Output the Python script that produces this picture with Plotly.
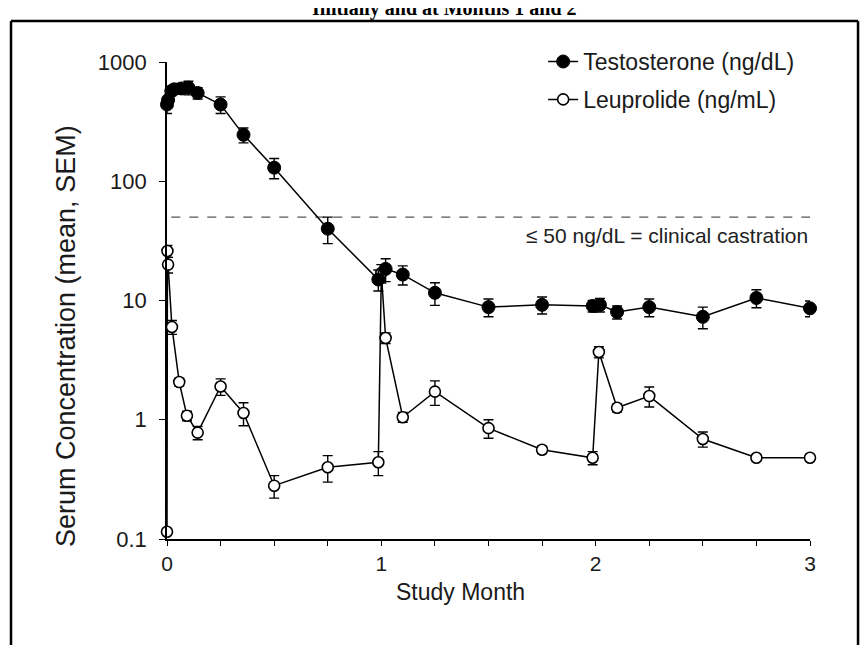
import plotly.graph_objects as go

# ---- data ----
testo_month = [0, 0.005, 0.02, 0.033, 0.067, 0.1, 0.143, 0.25, 0.357, 0.5, 0.75,
               0.986, 1.02, 1.1, 1.25, 1.5, 1.75, 1.986, 2.02, 2.1, 2.25, 2.5, 2.75, 3.0]
testo_mean = [440, 480, 570, 590, 600, 610, 550, 440, 245, 130, 40,
              15, 18.4, 16.5, 11.6, 8.8, 9.2, 9.0, 9.2, 8.0, 8.8, 7.3, 10.5, 8.6]
testo_sem = [70, 60, 50, 50, 60, 80, 60, 70, 35, 25, 10,
             3, 4, 3, 2.5, 1.5, 1.5, 1, 1.2, 1, 1.5, 1.5, 1.8, 1.3]

leup_month = [0, 0.002, 0.005, 0.023, 0.057, 0.093, 0.143, 0.25, 0.357, 0.5, 0.75,
              0.986, 1.0, 1.02, 1.1, 1.25, 1.5, 1.75, 1.986, 2.015, 2.1, 2.25, 2.5, 2.75, 3.0]
leup_mean = [0.115, 26, 20, 6.0, 2.07, 1.08, 0.78, 1.9, 1.14, 0.28, 0.40,
             0.44, 17, 4.85, 1.05, 1.72, 0.85, 0.56, 0.48, 3.7, 1.26, 1.58, 0.69, 0.48, 0.48]
leup_sem = [0, 3, 3, 0.8, 0.15, 0.1, 0.1, 0.3, 0.25, 0.06, 0.1,
            0.1, 3, 0.5, 0.1, 0.4, 0.15, 0.04, 0.06, 0.4, 0.1, 0.3, 0.1, 0.03, 0.03]

castration_level = 50
x_ticks = [0, 1, 2, 3]
y_ticks = [0.1, 1, 10, 100, 1000]
y_ticktext = ["0.1", "1", "10", "100", "1000"]

FONT = "Liberation Sans, Arial, Helvetica, sans-serif"

fig = go.Figure()

# threshold line
fig.add_trace(go.Scatter(
    x=[0.02, 3], y=[castration_level, castration_level], mode="lines",
    line=dict(color="#555555", width=1.2, dash="dash"),
    showlegend=False, hoverinfo="skip"))

fig.add_trace(go.Scatter(
    x=leup_month, y=leup_mean, name="Leuprolide (ng/mL)", legendgroup="b", legendrank=2,
    mode="lines+markers",
    line=dict(color="black", width=1.5),
    marker=dict(symbol="circle", size=11, color="white",
                line=dict(color="black", width=1.6)),
    error_y=dict(type="data", array=leup_sem, color="black", thickness=1.4, width=5),
    cliponaxis=False))

fig.add_trace(go.Scatter(
    x=testo_month, y=testo_mean, name="Testosterone (ng/dL)", legendgroup="a", legendrank=1,
    mode="lines+markers",
    line=dict(color="black", width=1.5),
    marker=dict(symbol="circle", size=13, color="black",
                line=dict(color="black", width=1)),
    error_y=dict(type="data", array=testo_sem, color="black", thickness=1.4, width=5),
    cliponaxis=False))

fig.update_layout(
    width=860, height=638, autosize=False,
    margin=dict(l=159, r=58, t=54, b=107),
    paper_bgcolor="white", plot_bgcolor="white",
    font=dict(family=FONT, color="#1a1a1a"),
    showlegend=True,
    legend=dict(x=0.585, y=1.046, xanchor="left", yanchor="top",
                traceorder="grouped", tracegroupgap=5,
                font=dict(size=23, family=FONT),
                bgcolor="rgba(0,0,0,0)", itemwidth=30),
    xaxis=dict(range=[0, 3], tickvals=x_ticks, ticks="outside", ticklen=5,
               tickwidth=1.3, tickcolor="black",
               minor=dict(dtick=0.25, ticks="outside", ticklen=5, tickcolor="black", tickwidth=1.1),
               showline=True, linecolor="black", linewidth=1.6,
               showgrid=False, zeroline=False,
               tickfont=dict(size=21, family=FONT)),
    yaxis=dict(type="log", range=[-1, 3], tickvals=y_ticks, ticktext=y_ticktext,
               ticks="outside", ticklen=6, tickwidth=1.3, tickcolor="black",
               ticklabelstandoff=8,
               showline=True, linecolor="black", linewidth=1.6,
               showgrid=False, zeroline=False,
               tickfont=dict(size=22, family=FONT)),
)

# axis titles
fig.add_annotation(
    x=0.4557, y=-0.112, xref="paper", yref="paper", xanchor="center", yanchor="middle",
    text="Study Month", showarrow=False, font=dict(size=23, family=FONT, color="#1a1a1a"))
fig.add_annotation(
    x=-0.157, y=0.4256, xref="paper", yref="paper", xanchor="center", yanchor="middle",
    text="Serum Concentration (mean, SEM)", textangle=-90, showarrow=False,
    font=dict(size=27, family=FONT, color="#1a1a1a"))

fig.add_annotation(
    x=1.0, y=0.637, xref="paper", yref="paper", xanchor="right", yanchor="middle",
    text="\u2264 50 ng/dL = clinical castration", showarrow=False,
    font=dict(size=21, family=FONT, color="#222222"))

# partially visible heading at the top
fig.add_annotation(
    x=0.431, y=1.113, xref="paper", yref="paper", xanchor="center", yanchor="middle",
    text="<b>Initially and at Months 1 and 2</b>", showarrow=False,
    font=dict(size=20, family="Liberation Serif, Times New Roman, serif", color="black"))

# surrounding frame
frame = dict(color="black", width=2.5)
fig.add_shape(type="line", xref="paper", yref="paper", x0=-0.2426, x1=-0.2426, y0=-0.222, y1=1.086, line=frame)
fig.add_shape(type="line", xref="paper", yref="paper", x0=-0.2426, x1=1.0747, y0=1.086, y1=1.086, line=frame)
fig.add_shape(type="line", xref="paper", yref="paper", x0=1.0747, x1=1.0747, y0=-0.222, y1=1.086, line=frame)

fig.write_html("out.html")
